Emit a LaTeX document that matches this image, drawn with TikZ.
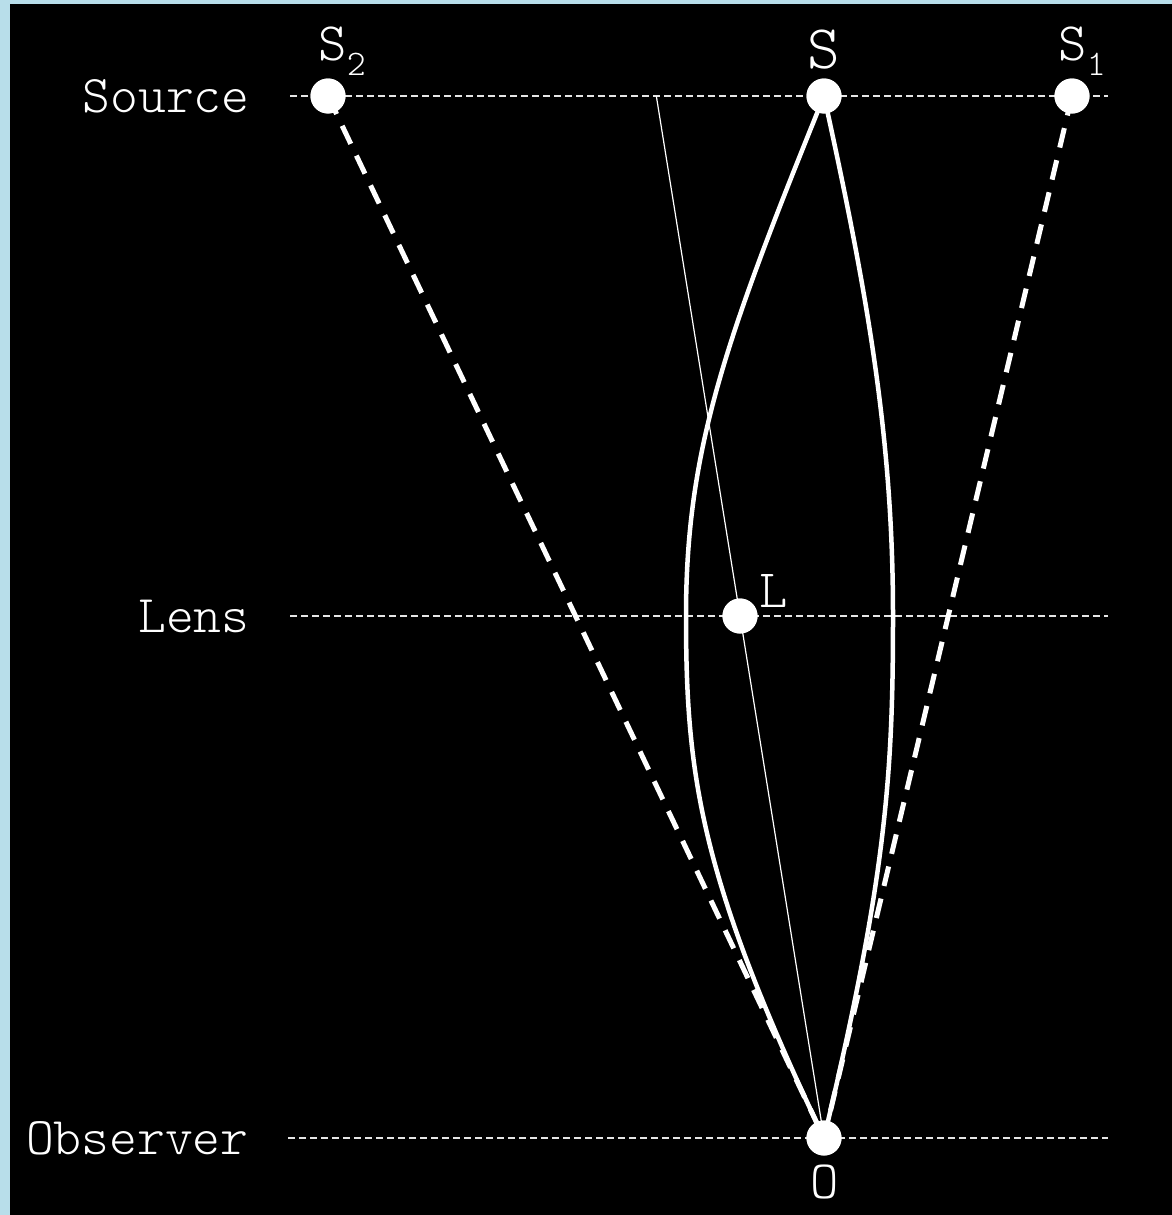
\documentclass[tikz,border=0pt]{standalone}
\usepackage{fontspec}
\usetikzlibrary{calc}
\definecolor{frameblue}{RGB}{184,222,234}
\newcommand{\lbltt}{\ttfamily\fontseries{l}\selectfont}
\begin{document}
\begin{tikzpicture}[x=0.5pt,y=-0.5pt,
  planeline/.style={draw=white!90!black,line width=0.75pt,dash pattern=on 3.5pt off 2pt},
  imageray/.style={draw=white,line width=2.5pt,dash pattern=on 10pt off 6.5pt},
  lightray/.style={draw=white,line width=2.25pt},
  axisray/.style={draw=white,line width=0.6pt},
  body/.style={circle,fill=white,draw=none,inner sep=0pt,minimum size=17.5pt},
  planelabel/.style={text=white,inner sep=0pt,anchor=east,font=\fontsize{26.5pt}{30pt}\lbltt},
  ptlabel/.style={text=white,inner sep=0pt,font=\fontsize{27pt}{30pt}\lbltt}]
\useasboundingbox (0,0) rectangle (1172,1215);
\fill[frameblue] (0,0) rectangle (1172,1215);
\fill[black] (10,4) rectangle (1172,1215);

% plane lines
\coordinate (srcA) at (290,96);   \coordinate (srcB) at (1108,96);
\coordinate (lensA) at (290,616); \coordinate (lensB) at (1108,616);
\coordinate (obsA) at (288,1138); \coordinate (obsB) at (1108,1138);
\draw[planeline] (srcA) -- (srcB);
\draw[planeline] (lensA) -- (lensB);
\draw[planeline] (obsA) -- (obsB);

% bodies
\node[body] (S2) at (328,96) {};
\node[body] (S) at (824,96) {};
\node[body] (S1) at (1072,96) {};
\node[body] (L) at (740,616) {};
\node[body] (O) at (824,1138) {};

% thin line from observer through lens to source plane
\coordinate (T) at ($(O.center)!{1042/522}!(L.center)$);
\draw[axisray] (O.center) -- (T);

% apparent image directions
\draw[imageray] (S2.center) -- (O.center);
\draw[imageray] (S1.center) -- (O.center);

% light rays
\coordinate (ML) at (686,616);
\coordinate (MR) at (893,616);
\draw[lightray] (S.center) .. controls (725,340) and (686,450) .. (ML)
                .. controls (686,776) and (700,878) .. (O.center);
\draw[lightray] (S.center) .. controls (868,296) and (893,440) .. (MR)
                .. controls (893,776) and (886,878) .. (O.center);

% redraw bodies on top
\foreach \b in {S2,S,S1,L,O} \fill[white] (\b.center) circle (8.75pt);

% labels
\node[planelabel] (tSource) at (250,96) {Source};
\node[planelabel] (tLens) at (250,616) {Lens};
\node[planelabel] (tObs) at (249,1138) {Observer};

\node[ptlabel,anchor=base] (tS) at (824,68) {\fontsize{31pt}{33pt}\selectfont S};
\node[ptlabel,anchor=base west] (tS2) at (318,60) {S\raisebox{-7.5pt}{\fontsize{18pt}{18pt}\selectfont 2}};
\node[ptlabel,anchor=base west] (tS1) at (1058,60) {S\raisebox{-7.5pt}{\fontsize{18pt}{18pt}\selectfont 1}};
\node[ptlabel,anchor=base west] (tL) at (759,607) {L};
\node[ptlabel,anchor=base] (tO) at (825,1198) {O};
\end{tikzpicture}
\end{document}
